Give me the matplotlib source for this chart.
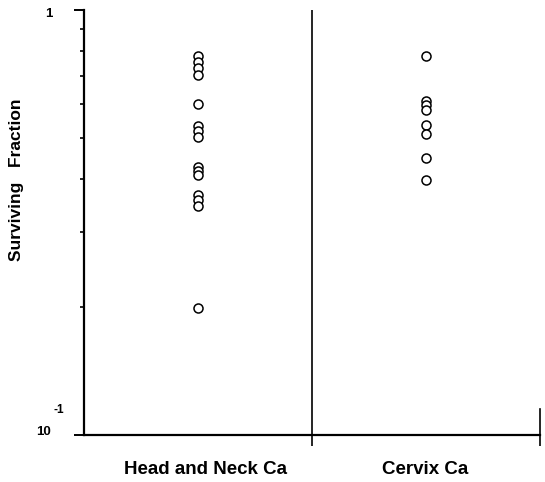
import matplotlib
matplotlib.use("Agg")
import matplotlib.pyplot as plt
from matplotlib.ticker import FixedLocator, NullFormatter
import numpy as np

plt.rcParams['font.family'] = ['Liberation Sans', 'DejaVu Sans']

categories = ['Head and Neck Ca', 'Cervix Ca']
head_neck = [0.779, 0.755, 0.730, 0.703, 0.601, 0.533, 0.519, 0.503,
             0.427, 0.418, 0.409, 0.367, 0.357, 0.346, 0.199]
cervix = [0.779, 0.611, 0.598, 0.582, 0.536, 0.511, 0.449, 0.398]
series = [head_neck, cervix]

W, H = 545, 482
fig = plt.figure(figsize=(W / 100, H / 100), dpi=100)
ax = fig.add_axes([84 / W, 1 - 435 / H, 456 / W, 425 / H])

for i, vals in enumerate(series):
    ax.plot(np.full(len(vals), i + 0.5), vals, 'o', mfc='white', mec='black',
            mew=1.1, ms=6.5, clip_on=False)

ax.set_yscale('log')
ax.set_ylim(0.1, 1)
ax.set_xlim(0, 2)

# divider between groups and short edge mark at right
ax.axvline(1, color='black', lw=1.2)
ax.plot([2, 2], [0.1, 0.115], color='black', lw=1.2, clip_on=False)

for s in ['top', 'right']:
    ax.spines[s].set_visible(False)
for s in ['left', 'bottom']:
    ax.spines[s].set_linewidth(1.6)

ax.yaxis.set_major_locator(FixedLocator([0.1, 1]))
ax.yaxis.set_minor_locator(FixedLocator([0.2, 0.3, 0.4, 0.5, 0.6, 0.7, 0.8, 0.9]))
ax.yaxis.set_major_formatter(NullFormatter())
ax.yaxis.set_minor_formatter(NullFormatter())
ax.tick_params(axis='y', which='major', length=7, width=1.4, direction='out')
ax.tick_params(axis='y', which='minor', length=3, width=1.2, direction='out')

ax.set_xticks([1, 2])
ax.set_xticklabels(['', ''])
ax.tick_params(axis='x', which='major', length=8, width=1.2, direction='out')

label_x = [206, 425]
for c, lx in zip(categories, label_x):
    fig.text(lx / W, 1 - 470 / H, c, ha='center', va='center',
             fontsize=13.5, fontweight='bold')

fig.text(52 / W, 1 - 14 / H, '1', ha='right', va='center', fontsize=9.5, fontweight='bold')
fig.text(51 / W, 1 - 432 / H, '10', ha='right', va='center', fontsize=9.5, fontweight='bold')
fig.text(53 / W, 1 - 410 / H, '-1', ha='left', va='center', fontsize=8.5, fontweight='bold')

fig.text(17 / W, 1 - 180 / H, 'Surviving   Fraction', rotation=90, ha='center',
         va='center', fontsize=12.5, fontweight='bold')

fig.savefig('out.png', dpi=100)
